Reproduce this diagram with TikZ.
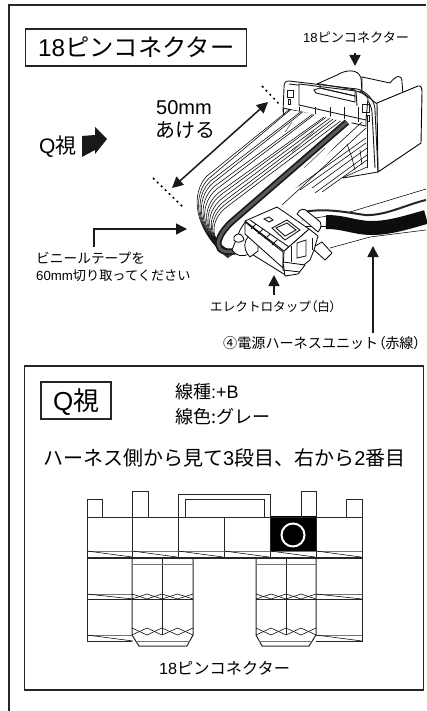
\documentclass[tikz,border=0pt]{standalone}
\usepackage{fontspec}
\setmainfont{Liberation Sans}
\newfontfamily\jp{Noto Sans CJK JP}
\newfontfamily\jpp[RawFeature=+palt]{Noto Sans CJK JP}
\usetikzlibrary{arrows.meta}
\newcommand{\fs}[1]{\fontsize{#1}{#1}\selectfont}
\tikzset{
  x=1pt,y=-1pt,
  lab/.style={anchor=west,inner sep=0pt,text=black},
  frame/.style={draw=black!85,line width=1.6pt},
  lead/.style={line width=1.6pt,black!90,-{Triangle[length=11pt,width=11pt]}},
  w/.style={line width=.55pt,black},
  g/.style={line width=1pt,black!85},
  c/.style={line width=.9pt,black!90},
  gl/.style={line width=.7pt,black!55},
  soft/.style={line width=.8pt,black,fill=white,line join=round},
}
\begin{document}
\begin{tikzpicture}
\useasboundingbox (0,0) rectangle (426,711);
% outer frame
\coordinate (o1) at (9,711); \coordinate (o2) at (9,5); \coordinate (o3) at (426,5);
\draw[line width=2pt,black!85] (o1) -- (o2) -- (o3);
% title
\node[frame,minimum width=221pt,minimum height=37pt,inner sep=0pt] (title) at (136,47.5) {};
\node[lab] (titlet) at (38,47.5) {\fs{24.3}18{\jp ピンコネクター}};
% small label
\node[lab] (sl) at (303,37) {\fs{13.1}18{\jp ピンコネクター}};
\coordinate (sa) at (355,53); \coordinate (sb) at (355,66);
\draw[lead] (sa) -- (sb);
% 50mm
\node[lab] (mm) at (156,108) {\fs{20}50mm};
\node[lab] (ake) at (155,130) {\fs{20}\jp あける};
% Q view label
\node[lab] (qv) at (39,147) {\fs{21}Q{\jp 視}};
\fill[black!90] (82,136) -- (95,135) -- (95,127) -- (107,139) -- (95,154) -- (95,150) -- (82,157) -- cycle;
% dotted
\coordinate (d1) at (153,178); \coordinate (d2) at (183,207);
\coordinate (d3) at (262,86); \coordinate (d4) at (280,105);
\draw[line width=1.5pt,black,dash pattern=on 2pt off 3.5pt] (d1) -- (d2);
\draw[line width=1.5pt,black,dash pattern=on 2pt off 3.5pt] (d3) -- (d4);
\coordinate (da) at (172,188); \coordinate (db) at (268,102);
\draw[line width=1.5pt,black!90,{Triangle[length=11pt,width=11pt]}-{Triangle[length=11pt,width=11pt]}] (da) -- (db);
% tape
\coordinate (ta) at (94,247); \coordinate (tb) at (94,229); \coordinate (tc) at (187,229);
\draw[lead] (ta) -- (tb) -- (tc);
\node[lab] (t1) at (36,258) {\fs{13.7}\jp ビニールテープを};
\node[lab] (t2) at (36,276) {\fs{13.2}60mm{\jp 切り取ってください}};
% ---- connector back
\draw[soft] (317,84) -- (337,75) .. controls (345,70) and (358,68) .. (361,78) -- (362,92) -- cycle;
\draw[soft] (362,92) -- (362,77) -- (390,83) .. controls (396,75) and (402,74) .. (402,82) -- (403,95) -- (377,104) -- cycle;
\fill[white] (283,110) -- (284,88) -- (289,81) -- (357,89) -- (375,110) -- (378,172) -- (345,178) -- (300,180) -- cycle;
\draw[soft,line width=.9pt] (377,103) -- (418,86) .. controls (421,85) and (422,88) .. (422,92) -- (421,143) -- (378,172) -- cycle;
\draw[c] (283,112) -- (284,88) .. controls (284,83) and (285,81) .. (289,81) -- (357,89) .. controls (366,91) and (375,100) .. (375,110) -- (378,172) -- (343,178);
\draw[c] (289,84) -- (355,92) .. controls (364,94) and (371,102) .. (372,112) -- (375,168);
\draw[c,fill=white] (299,84) -- (299,105) -- (366,120) -- (368,98) .. controls (365,94) and (360,92) .. (356,91) -- cycle;
\draw[c] (356,91) -- (357,106);
\draw[c] (320,84) -- (320,88) -- (355,96) -- (355,90) -- cycle;
\draw[c] (314,90) -- (316,93) -- (355,102) -- (355,96) -- (320,88) -- cycle;
% windows
\draw[c] (287,90) rectangle (293,97);  \draw[c] (288,99) rectangle (290,104);
\draw[c] (362,104) rectangle (369,112); \draw[c] (367,115) rectangle (369,121);
% slots
\draw[c] (283,108) -- (283,115); \draw[c] (283,108) -- (366,126) -- (366,120);
\draw[c] (367,120) -- (367,168);
\foreach \sx in {299,315,330,344,358} \draw[c] (\sx,107) -- (\sx,122);
% lower rows
\draw[w] (366,138) -- (290,192);  \draw[w] (366,143) -- (300,190);
\draw[w] (367,148) -- (312,188);  \draw[w] (367,155) -- (315,193);
\draw[w] (367,160) -- (322,192);  \draw[w] (367,167) -- (342,178);
\draw[w] (352,158) -- (355,170);  \draw[w] (347,144) -- (352,158);  \draw[w] (360,150) -- (362,165);
\draw[w] (362,122) -- (272,205);
\draw[w] (366,128) -- (282,205);
% ---- wire bundle: top position t, bend position b
\fill[white] (290,110) -- (200,180) .. controls (186,200) and (190,225) .. (205,243) .. controls (215,255) and (225,258) .. (240,258) -- (285,200) -- (350,130) -- (352,120) -- cycle;
\foreach \t/\b in {0/0,.02/.06,.2/.12,.23/.18,.41/.25,.44/.32,.62/.4,.65/.46,.72/.53,.78/.6,.84/.66,.92/.72} {
  \pgfmathsetmacro\xs{290+55*\t}\pgfmathsetmacro\ys{109+13*\t}
  \pgfmathsetmacro\xm{207+30*\b}\pgfmathsetmacro\ym{176+41*\b}
  \pgfmathsetmacro\xc{191+22*\b}\pgfmathsetmacro\yc{192+40*\b}
  \pgfmathsetmacro\xd{192+24*\b}\pgfmathsetmacro\yd{228+26*\b}
  \pgfmathsetmacro\xe{228+12*\b}\pgfmathsetmacro\ye{258-8*\b}
  \draw[w] (\xs,\ys) -- (\xm,\ym) .. controls (\xc,\yc) and (\xd,\yd) .. (\xe,\ye);
}
\draw[gl] (292,122) -- (285,132);
\draw[gl] (314,131) -- (292,152); \draw[gl] (333,134) -- (300,166); \draw[gl] (325,148) -- (304,168);
% dark wire
\coordinate (k1) at (347,122); \coordinate (k2) at (235,219); \coordinate (k4) at (240,250);
\draw[line width=6.5pt,black!90] (k1) -- (k2) .. controls (212,238) and (212,258) .. (k4);
\draw[line width=3pt,black!65] (k1) -- (k2) .. controls (212,238) and (212,258) .. (k4);
% ---- ribbon & black harness
\fill[white] (426,189) -- (350,212) -- (300,228) -- (325,250) -- (338,248) -- (370,237) -- (426,230) -- cycle;
\draw[w] (426,189) -- (350,212);  \draw[w] (330,248) -- (370,237) -- (426,230);
\draw[line width=2pt,black!85] (303,212) .. controls (325,208) and (345,212) .. (365,215) .. controls (385,216) and (405,205) .. (426,200);
\draw[line width=14pt,black!95] (326,222) .. controls (345,222) and (355,228) .. (372,228) .. controls (390,228) and (408,222) .. (426,217);
\draw[w] (302,220) -- (328,216);  \draw[w] (302,226) -- (328,226);
% ---- Electro-tap
\draw[soft] (240,230) -- (232,250) .. controls (236,256) and (243,258) .. (250,253) -- (287,276) -- (290,255) -- (245,222) -- cycle;
\draw[soft] (234,237) .. controls (236,233) and (241,233) .. (243,237) -- (244,240) .. controls (240,243) and (236,243) .. (234,240) -- cycle;
\draw[soft] (246,240) .. controls (249,234) and (255,236) .. (258,242) -- (258,251) -- (250,257) .. controls (246,253) and (243,247) .. (246,240) -- cycle;
\draw[soft] (297,214) .. controls (300,208) and (305,208) .. (308,212) -- (318,220) .. controls (322,222) and (322,228) .. (318,232) -- cycle;
\draw[soft] (245,222) -- (245,234) -- (283,268) -- (283,252) -- cycle;
\draw[soft] (312,248) -- (322,242) -- (332,253) -- (325,260) -- cycle;
\draw[soft] (284,251) -- (309,229) -- (318,236) -- (314,250) -- (310,260) -- (300,268) -- (283,270) -- cycle;
\draw[soft] (283,262) -- (305,265) -- (298,274) -- (285,276) -- cycle;
\draw[soft] (283,270) -- (300,272);
\draw[soft] (245,221) -- (277,207) -- (309,229) -- (284,251) -- cycle;
\draw[c] (250,220) -- (289,247);
\foreach \x/\y in {256/224,263/229,270/234,277/240} \draw[c] (\x,\y) -- ++(-5,5);
\draw[c] (272,228) -- (287,220) -- (300,230) -- (285,240) -- cycle;
\draw[c] (276,228) -- (287,223) -- (296,230) -- (285,236) -- cycle;
\draw[c] (264,219) -- (269,217) -- (273,220) -- (269,222) -- cycle;
\draw[c] (297,243) -- (306,240) -- (306,256) -- (297,258) -- cycle;
\draw[c] (291,246) -- (291,262);  \draw[c] (312,238) -- (312,250);
% tap labels
\coordinate (ea) at (274,295); \coordinate (eb) at (274,275);
\draw[lead] (ea) -- (eb);
\node[lab] (el) at (210,307) {\fs{12.6}\jp エレクトロタップ{\jpp （白）}};
\coordinate (pa) at (373,333); \coordinate (pb) at (373,246);
\draw[lead] (pa) -- (pb);
\node[lab] (pl) at (223,343) {\fs{14.1}\jp ④電源ハーネスユニット{\jpp （赤線）}};
% Q box
\node[frame,minimum width=399pt,minimum height=324pt,inner sep=0pt] (qbox) at (224,528) {};
\node[frame,line width=1.4pt,minimum width=70pt,minimum height=37pt,inner sep=0pt] (qt) at (76,400.5) {};
\node[lab] (qtt) at (53,402) {\fs{26}Q{\jp 視}};
\node[lab] (l1) at (175,392) {\fs{18}{\jp 線種}:+B};
\node[lab] (l2) at (175,417) {\fs{18}\jp 線色:グレー};
\node[lab] (l3) at (43,458) {\fs{20}{\jp ハーネス側から見て}3{\jp 段目、右から}2{\jp 番目}};
% ---- pin diagram
\fill[black] (270,516) rectangle (316,551);
\draw[g] (87,517) -- (87,499) -- (102,499) -- (102,517);
\draw[g] (132,517) -- (132,491) -- (148,491) -- (148,517);
\draw[g] (178,517) -- (178,494) -- (270,494) -- (270,517);
\draw[g] (185,517) -- (185,499) -- (264,499) -- (264,517);
\draw[g] (301,517) -- (301,491) -- (316,491) -- (316,517);
\draw[g] (346,517) -- (346,499) -- (362,499) -- (362,517);
\draw[g] (87,517) -- (362,517);
\draw[g] (87,517) -- (87,641) -- (132,641);
\draw[g] (362,517) -- (362,641) -- (316,641);
\foreach \x in {132,178,224,270,316} \draw[g] (\x,517) -- (\x,558);
\draw[g,line width=1.3pt] (87,558) -- (362,558);
\draw[gl] (87,551) -- (362,551);
\foreach \x in {87,132,178,224,270,316} \draw[w] (\x,551) -- ++(45,6);
% left/right columns
\foreach \x in {87,316} {
  \draw[gl] (\x,594) -- ++(46,0);
  \draw[g] (\x,599) -- ++(46,0);
  \draw[w] (\x,594) -- ++(46,5);
  \draw[gl] (\x,635) -- ++(46,0);
  \draw[w] (\x,635) -- ++(46,6);
}
\draw[g] (132,558) -- (132,635) -- (139,646) -- (187,646) -- (193,635) -- (193,558);
\draw[g] (256,558) -- (256,635) -- (262,646) -- (309,646) -- (316,635) -- (316,558);
\foreach \xa/\xb/\xc in {132/162/193,256/286/316} {
  \draw[g] (\xb,558) -- (\xb,635);
  \draw[gl] (\xa,564) -- (\xc,564);
  \draw[g] (\xa,599) -- (\xc,599);
  \draw[gl] (\xa+3,641) -- (\xc-3,641);
  \foreach \ya/\yb in {594/599,628/635} {
    \pgfmathsetmacro\m{(\xa+\xb)/2}\pgfmathsetmacro\n{(\xb+\xc)/2}
    \draw[w] (\xa,\ya) -- (\m,\yb) -- (\xb,\ya) -- (\n,\yb) -- (\xc,\ya);
    \draw[w] (\xa,\yb) -- (\m,\ya) -- (\xb,\yb) -- (\n,\ya) -- (\xc,\yb);
  }
}
\node[draw=white,line width=2pt,circle,minimum size=23pt,inner sep=0pt] (pin) at (293,535) {};
\node[lab] (bl) at (159,668) {\fs{16.2}18{\jp ピンコネクター}};
\end{tikzpicture}
\end{document}
